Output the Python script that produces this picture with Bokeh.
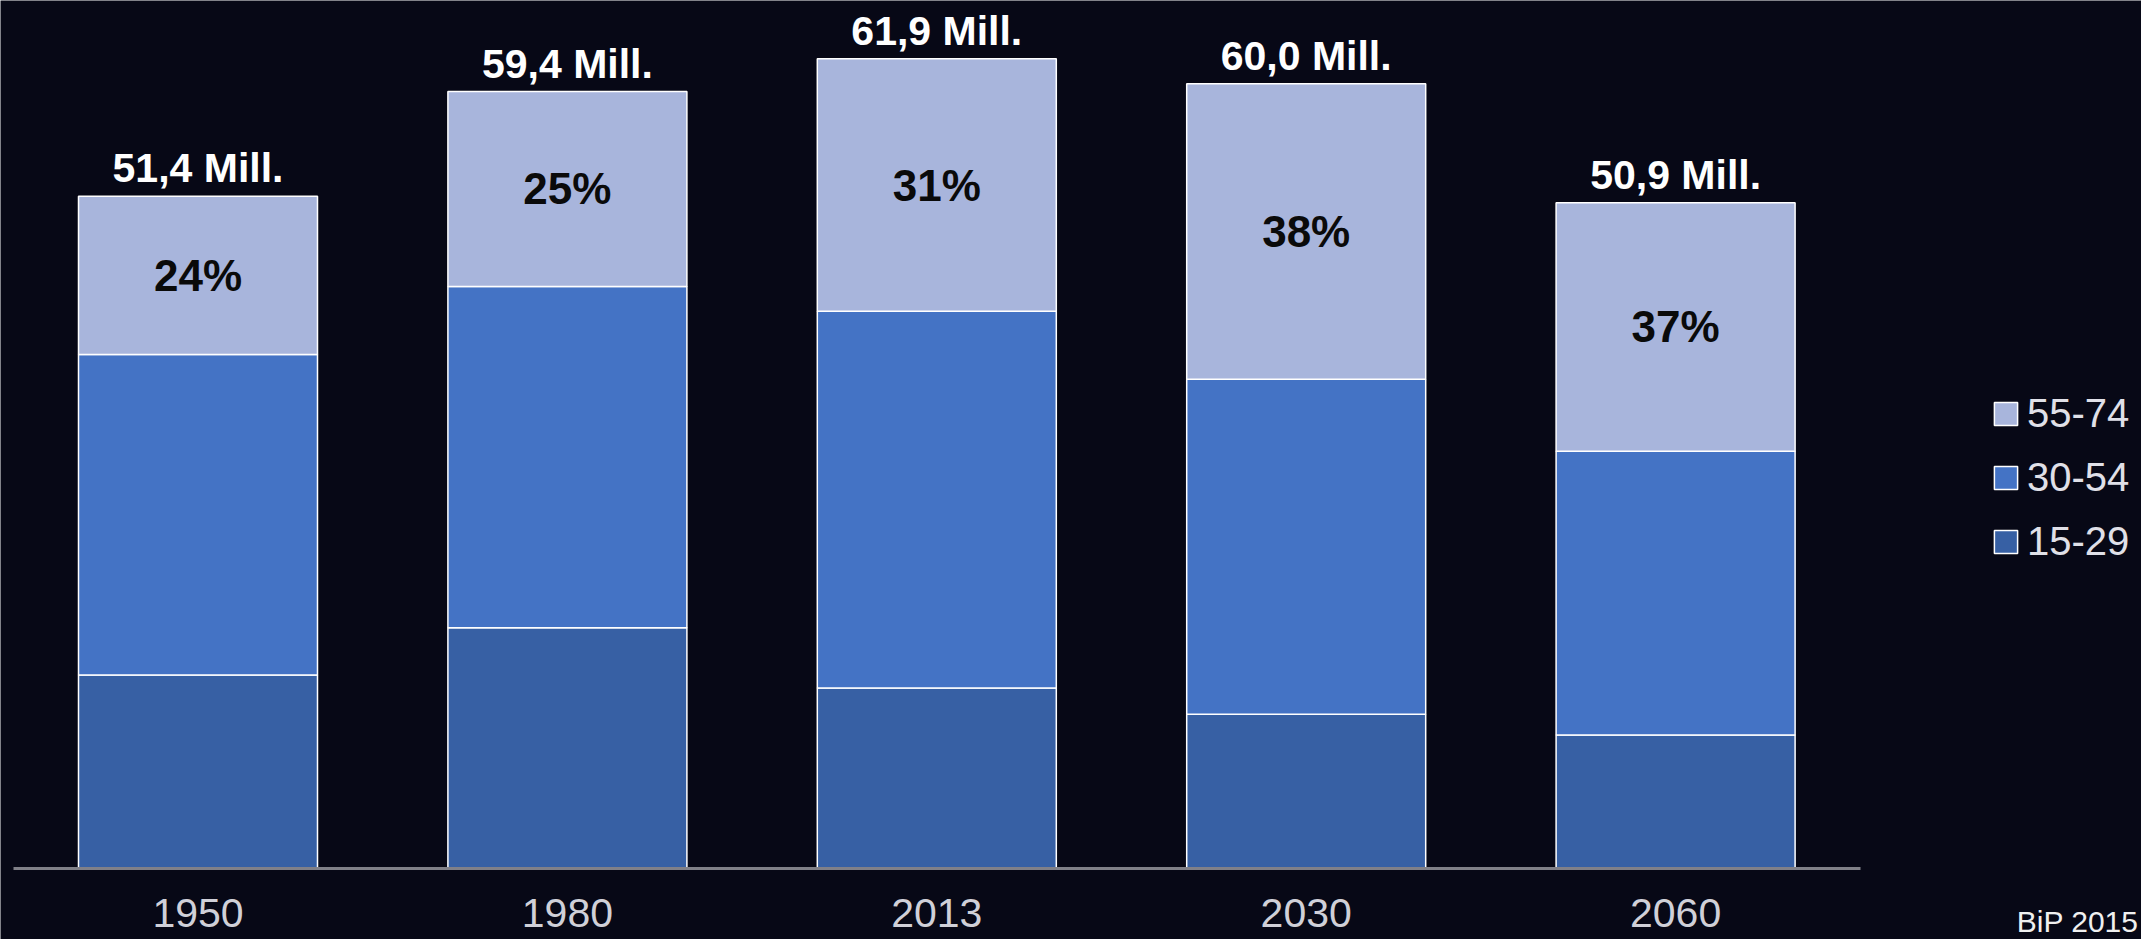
from bokeh.plotting import figure
from bokeh.models import (ColumnDataSource, Range1d, Legend, LegendItem, Label,
                          FixedTicker)
from bokeh.core.properties import value
from bokeh.embed import file_html
from bokeh.resources import INLINE

# ---- data ----
years = ["1950", "1980", "2013", "2030", "2060"]
age_groups = ["15-29", "30-54", "55-74"]
age_15_29 = [14.8, 18.4, 13.8, 11.8, 10.2]
age_30_54 = [24.5, 26.1, 28.8, 25.6, 21.7]
age_55_74 = [12.1, 14.9, 19.3, 22.6, 19.0]
totals = [51.4, 59.4, 61.9, 60.0, 50.9]
total_labels = ["51,4 Mill.", "59,4 Mill.", "61,9 Mill.", "60,0 Mill.", "50,9 Mill."]
share_55_74 = ["24%", "25%", "31%", "38%", "37%"]
source_note = "BiP 2015"

colors = ["#3760a4", "#4473c5", "#a8b5dc"]
BG = "#070816"
FONT = "Liberation Sans"

positions = list(range(len(years)))

src = ColumnDataSource(dict(
    pos=positions,
    year=years,
    **{"15-29": age_15_29, "30-54": age_30_54, "55-74": age_55_74},
    total=totals,
    total_label=total_labels,
    share=share_55_74,
    share_y=[a + b + c / 2 for a, b, c in zip(age_15_29, age_30_54, age_55_74)],
))

W, H = 2141, 939
PX_PER_SLOT = 369.4      # horizontal pixels per category slot
PX_PER_MILL = 13.08      # vertical pixels per million
BASE_PX = 868            # baseline position from top
FIRST_PX = 197.5         # centre of the first bar from left

x_start = -FIRST_PX / PX_PER_SLOT
x_end = x_start + W / PX_PER_SLOT
y_end = BASE_PX / PX_PER_MILL
y_start = -(H - BASE_PX) / PX_PER_MILL

p = figure(
    x_range=Range1d(x_start, x_end),
    y_range=Range1d(y_start, y_end),
    width=W, height=H,
    output_backend="svg", toolbar_location=None,
    min_border_left=0, min_border_right=0, min_border_top=0, min_border_bottom=0,
    background_fill_color=BG, border_fill_color=BG,
    outline_line_color=None, y_axis_location=None,
)
p.grid.visible = False

rs = p.vbar_stack(age_groups, x="pos", width=0.647, fill_color=colors,
                  line_color="white", line_width=1.5, source=src)

p.text(x="pos", y="total", text="total_label", source=src,
       text_align="center", text_baseline="alphabetic", y_offset=-28,
       text_font=value(FONT), text_font_style="bold", text_font_size="41px",
       text_color="white")

p.text(x="pos", y="share_y", text="share", source=src,
       text_align="center", text_baseline="middle",
       text_font=value(FONT), text_font_style="bold", text_font_size="44px",
       text_color="#0a0a0a")

ax = p.xaxis[0]
ax.fixed_location = 0
ax.ticker = FixedTicker(ticks=positions)
ax.major_label_overrides = {i: y for i, y in zip(positions, years)}
ax.bounds = (-0.5, len(years) - 0.5)
ax.axis_line_color = "#808088"
ax.axis_line_width = 3
ax.major_tick_line_color = None
ax.minor_tick_line_color = None
ax.major_label_text_font = FONT
ax.major_label_text_font_size = "41px"
ax.major_label_text_color = "#d0d0d8"
ax.major_label_standoff = 24

legend = Legend(
    items=[LegendItem(label=age_groups[i], renderers=[rs[i]]) for i in (2, 1, 0)],
    location=(1991, 375),
    glyph_width=29, glyph_height=29, label_standoff=7,
    label_text_font=FONT, label_text_font_size="40px", label_text_color="#e0e0e8",
    label_height=40, spacing=19, padding=0, margin=0,
    background_fill_alpha=0, border_line_color=None,
)
p.add_layout(legend, "center")

note = Label(x=W - 3, y=921, x_units="canvas", y_units="canvas", text=source_note,
             text_align="right", text_baseline="middle",
             text_font=FONT, text_font_size="30px", text_color="#f0f0f0")
p.add_layout(note)

open("out.html", "w").write(file_html(p, INLINE))
